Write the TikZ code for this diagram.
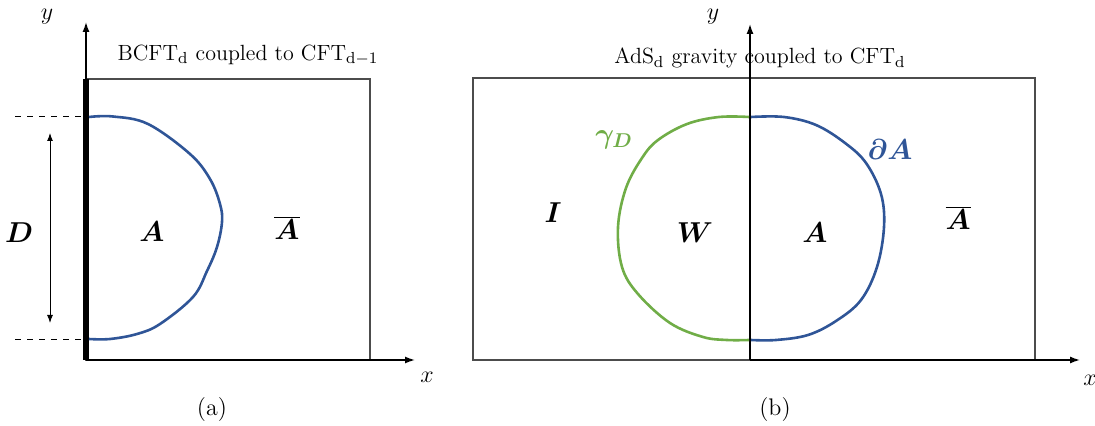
\documentclass[tikz,border=0pt]{standalone}
\usepackage{bm}
\usetikzlibrary{arrows.meta}
\definecolor{curveblue}{HTML}{2F5597}
\definecolor{curvegreen}{HTML}{70AD47}

\begin{document}
\begin{tikzpicture}[x=0.5pt,y=-0.5pt]
  \tikzset{
    frame/.style={line width=0.6pt,black!70},
    axis/.style={line width=0.7pt,-{Latex[length=5pt,width=3.5pt]}},
    region/.style={font=\Large},
    surface/.style={line width=1.3pt,line join=round},
    heading/.style={font=\fontsize{11}{13}\selectfont}
  }
  \useasboundingbox (0,0) rectangle (1095,426);
  % (a) BCFT side
  \coordinate (aO) at (86,360);
  \coordinate (aY) at (86,22);
  \coordinate (aX) at (415,360);
  \draw[frame] (86,79) rectangle (370,360);
  \fill (83,79) rectangle (89,360);
  \draw[axis] (aO) -- (aY);
  \draw[axis] (aO) -- (aX);
  \node[font=\large] (ylabA) at (47,17) {$y$};
  \node[font=\large] (xlabA) at (427,377) {$x$};
  \node[heading] (titleA) at (248,55) {BCFT$_\mathrm{d}$ coupled to CFT$_{\mathrm{d}-1}$};
  \coordinate (dashTl) at (15,117);
  \coordinate (dashTr) at (86,117);
  \coordinate (dashBl) at (15,340);
  \coordinate (dashBr) at (86,340);
  \draw[line width=0.5pt,dashed] (dashTl) -- (dashTr);
  \draw[line width=0.5pt,dashed] (dashBl) -- (dashBr);
  \coordinate (dTop) at (50,133);
  \coordinate (dBot) at (50,323);
  \draw[line width=0.5pt,{Latex[length=4pt,width=3pt]}-{Latex[length=4pt,width=3pt]}] (dTop) -- (dBot);
  \node[region] (labD) at (19,233) {$\bm{D}$};
  \draw[surface,curveblue] plot[smooth,tension=0.6] coordinates {
    (89,117) (113,116.5) (148,124) (190,154) (210,179) (220,204) (222,222)
    (217,247) (207,271) (193,297) (160,324) (137,334) (110,339) (89,339)};
  \node[region] (labAa) at (152,232) {$\bm{A}$};
  \node[region] (labAbara) at (287,228) {$\overline{\bm{A}}$};
  \node[font=\large] (capA) at (212,410) {(a)};
  % (b) gravity side
  \coordinate (bO) at (750,360);
  \coordinate (bY) at (750,24);
  \coordinate (bX) at (1080,360);
  \draw[frame] (473,78) rectangle (1035,360);
  \draw[axis] (bO) -- (bY);
  \draw[axis] (bO) -- (bX);
  \node[font=\large] (ylabB) at (713,17) {$y$};
  \node[font=\large] (xlabB) at (1090,380) {$x$};
  \node[heading] (titleB) at (760,58) {AdS$_\mathrm{d}$ gravity coupled to CFT$_\mathrm{d}$};
  \draw[surface,curvegreen] plot[smooth,tension=0.6] coordinates {
    (749,117) (719,117) (687,124) (658,140) (642,158) (626,188) (618,227)
    (622,267) (638,294) (670,323) (703,337) (727,340) (749,340)};
  \draw[surface,curveblue] plot[smooth,tension=0.6] coordinates {
    (751,117) (784,117) (816,125) (845,143) (866,163) (881,194) (884,227)
    (877,267) (861,300) (836,321) (808,335) (776,340) (751,340)};
  \node[region,text=curvegreen] (labGam) at (614,140) {$\bm{\gamma_D}$};
  \node[region,text=curveblue] (labBdy) at (890,150) {$\bm{\partial A}$};
  \node[region] (labI) at (553,213) {$\bm{I}$};
  \node[region] (labW) at (695,233) {$\bm{W}$};
  \node[region] (labAb) at (815,233) {$\bm{A}$};
  \node[region] (labAbarb) at (958,218) {$\overline{\bm{A}}$};
  \node[font=\large] (capB) at (775,410) {(b)};
\end{tikzpicture}
\end{document}
